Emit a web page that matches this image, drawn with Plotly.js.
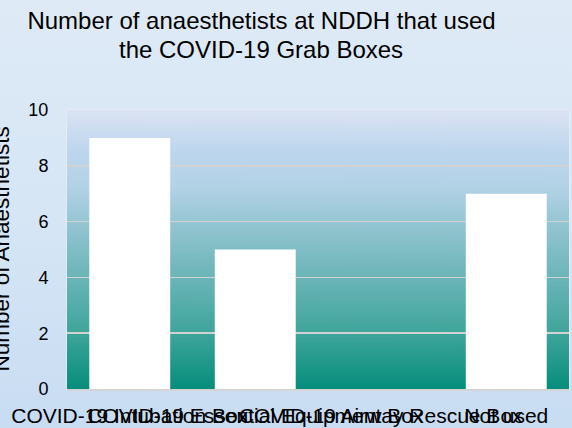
<!DOCTYPE html>
<html>
<head>
<meta charset="utf-8">
<script src="https://cdn.plot.ly/plotly-3.0.1.min.js"></script>
<style>
html,body{margin:0;padding:0;}
body{width:572px;height:428px;overflow:hidden;background:linear-gradient(to bottom,#deeaf6 0%,#d6e6f5 50%,#c8dcf2 100%);}
#chart{width:572px;height:428px;}
</style>
</head>
<body>
<div id="chart"></div>
<script>
const categories = ["COVID-19 Intubation Box", "COVID-19 Essential Equipment Box", "COVID-19 Airway Rescue Box", "Not used"];
const counts = [9, 5, 0, 7];
const yTicks = [0, 2, 4, 6, 8, 10];
const titleLines = ["Number of anaesthetists at NDDH that used", "the COVID-19 Grab Boxes"];
const yTitle = "Number of Anaesthetists";

// vertical gradient for the plot area
const cv = document.createElement('canvas');
cv.width = 10; cv.height = 280;
const ctx = cv.getContext('2d');
const g = ctx.createLinearGradient(0, 0, 0, 280);
g.addColorStop(0.00, '#dbe3f3');
g.addColorStop(0.15, '#bdd6ee');
g.addColorStop(0.28, '#b2d2e6');
g.addColorStop(0.40, '#96c6d3');
g.addColorStop(0.60, '#6bb5b8');
g.addColorStop(0.80, '#3fa59b');
g.addColorStop(1.00, '#058d7b');
ctx.fillStyle = g; ctx.fillRect(0, 0, 10, 280);
const bgImg = cv.toDataURL('image/png');

const font = "'Liberation Sans', Arial, sans-serif";

Plotly.newPlot('chart', [{
  type: 'bar',
  x: categories,
  y: counts,
  width: 0.645,
  marker: {color: '#ffffff', line: {width: 0}},
  hoverinfo: 'none'
}], {
  width: 572, height: 428,
  margin: {l: 67, r: 3, t: 110, b: 39, pad: 0},
  paper_bgcolor: 'rgba(0,0,0,0)',
  plot_bgcolor: 'rgba(0,0,0,0)',
  showlegend: false,
  font: {family: font, color: '#000', size: 18},
  title: {
    text: titleLines[0],
    font: {family: font, size: 24, color: '#000'},
    xref: 'container', x: 261.5/572, xanchor: 'center',
    yref: 'container', y: 1 - 21/428, yanchor: 'middle'
  },
  xaxis: {
    type: 'category',
    showgrid: false,
    showline: true, linecolor: '#d4d4d4', linewidth: 1.5,
    ticks: 'outside', ticklen: 7, tickcolor: 'rgba(0,0,0,0)',
    tickfont: {family: font, size: 21, color: '#000'},
    tickangle: 0,
    fixedrange: true
  },
  yaxis: {
    range: [0, 10],
    tickvals: yTicks,
    ticktext: yTicks.map(String),
    showgrid: true, gridcolor: '#d2d2d2', gridwidth: 1.5,
    zeroline: false,
    showline: false,
    ticks: 'outside', ticklen: 14, tickcolor: 'rgba(0,0,0,0)',
    tickfont: {family: font, size: 18, color: '#000'},
    fixedrange: true
  },
  images: [{
    source: bgImg, xref: 'x domain', yref: 'y domain',
    x: 0, y: 1, sizex: 1, sizey: 1, sizing: 'stretch',
    xanchor: 'left', yanchor: 'top', layer: 'below'
  }],
  shapes: [{
    type: 'rect', xref: 'paper', yref: 'paper', x0: 0, x1: 1, y0: 0, y1: 1,
    line: {color: '#e8eef6', width: 1.5}, fillcolor: 'rgba(0,0,0,0)', layer: 'below'
  }],
  annotations: [{
    text: titleLines[1],
    xref: 'paper', yref: 'paper',
    x: (261 - 67) / 502, y: 1 + (110 - 49) / 279,
    xanchor: 'center', yanchor: 'middle', showarrow: false,
    font: {family: font, size: 24, color: '#000'}
  }, {
    text: yTitle,
    xref: 'paper', yref: 'paper',
    x: (1 - 67) / 502, y: 0.5,
    xanchor: 'center', yanchor: 'middle',
    textangle: -90, showarrow: false,
    font: {family: font, size: 22.5, color: '#000'}
  }]
}, {displayModeBar: false, staticPlot: true});
</script>
</body>
</html>
